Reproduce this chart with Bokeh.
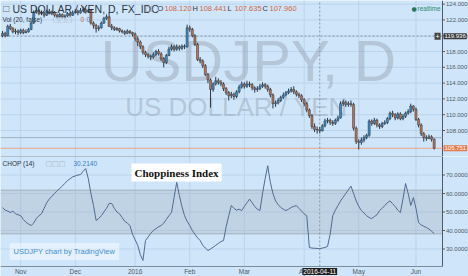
from bokeh.plotting import figure
from bokeh.layouts import column
from bokeh.models import Range1d, Label, BoxAnnotation, ColumnDataSource
from bokeh.core.properties import value
from bokeh.embed import file_html
from bokeh.resources import INLINE

# ---------------- data (USDJPY daily) ----------------
first_open = 120.0
closes = [
    120.3, 120.0, 121.2, 120.9, 120.5, 120.6, 120.4, 120.7, 120.4, 120.5,
    120.8, 121.6, 123.0, 123.2, 122.8, 122.9, 122.6, 123.1, 122.8, 123.0,
    122.6, 122.4, 122.7, 122.4, 122.5, 122.8, 122.6, 122.9, 123.1, 122.9,
    123.2, 123.3, 123.0, 123.2, 121.6, 121.3, 120.9, 121.0, 121.6, 122.2,
    122.4, 121.2, 121.0, 120.8, 120.9, 120.6, 120.5, 120.3, 120.6, 120.4,
    120.2, 119.6, 119.2, 118.6, 117.9, 117.6, 117.4, 117.3, 117.6, 118.0,
    117.7, 117.1, 116.6, 117.5, 118.3, 118.6, 118.3, 118.6, 118.4, 118.7,
    118.6, 121.0, 120.8, 120.0, 118.9, 117.0, 116.8, 116.2, 115.1, 114.4,
    113.2, 113.9, 114.3, 114.1, 113.9, 113.3, 112.8, 112.4, 112.6, 112.3,
    112.9, 113.5, 113.9, 113.6, 113.9, 113.8, 113.4, 113.2, 113.3, 113.6,
    113.8, 113.6, 113.2, 112.5, 111.4, 111.5, 111.8, 112.2, 112.5, 112.8,
    113.0, 113.2, 112.9, 112.6, 112.4, 111.9, 111.4, 110.6, 109.9, 108.5,
    108.1, 108.12, 107.96, 108.6, 109.2, 109.3, 109.0, 108.9, 109.3, 109.6,
    111.4, 111.6, 111.3, 111.4, 111.3, 108.3, 106.6, 106.5, 106.8, 107.1,
    107.4, 109.2, 108.9, 109.3, 108.7, 108.5, 108.9, 109.0, 109.5, 110.2,
    110.0, 109.6, 110.1, 109.5, 109.8, 110.2, 110.4, 111.1, 110.7, 109.4,
    108.7, 107.6, 107.1, 107.0, 107.2, 106.9, 105.751,
]
highs = [
    120.6, 120.5, 121.4, 121.5, 121.1, 120.9, 120.8, 120.9, 120.9, 120.8,
    121.0, 121.8, 123.2, 123.6, 123.4, 123.2, 123.0, 123.3, 123.4, 123.2,
    123.1, 122.8, 122.9, 122.8, 122.7, 123.0, 123.0, 123.2, 123.4, 123.3,
    123.5, 123.7, 123.5, 123.4, 123.3, 121.8, 121.5, 121.3, 121.8, 122.4,
    122.7, 123.0, 121.5, 121.2, 121.1, 121.0, 120.8, 120.7, 120.8, 120.7,
    120.5, 120.4, 119.9, 119.4, 118.8, 118.1, 117.8, 117.6, 117.9, 118.2,
    118.3, 117.9, 117.3, 117.7, 118.6, 118.9, 118.8, 118.9, 118.8, 118.9,
    118.9, 121.4, 121.3, 121.0, 120.2, 119.1, 117.3, 117.0, 116.4, 115.3,
    114.6, 114.1, 114.8, 114.6, 114.4, 114.1, 113.5, 113.0, 112.9, 112.8,
    113.1, 113.8, 114.2, 114.1, 114.3, 114.2, 114.0, 113.6, 113.6, 113.9,
    114.1, 114.0, 113.8, 113.4, 112.7, 111.8, 112.1, 112.4, 112.8, 113.0,
    113.3, 113.5, 113.6, 113.1, 112.8, 112.6, 112.1, 111.6, 110.8, 110.1,
    108.9, 108.5, 108.441, 108.8, 109.5, 109.6, 109.5, 109.3, 109.5, 109.9,
    111.7, 111.9, 111.8, 111.7, 111.8, 111.5, 108.5, 106.9, 107.1, 107.4,
    107.6, 109.4, 109.4, 109.6, 109.5, 108.9, 109.1, 109.3, 109.7, 110.4,
    110.5, 110.2, 110.3, 110.3, 110.1, 110.4, 110.7, 111.4, 111.2, 110.9,
    109.6, 108.9, 107.8, 107.4, 107.5, 107.4, 107.0,
]
lows = [
    119.8, 119.8, 119.9, 120.7, 120.3, 120.2, 120.1, 120.2, 120.2, 120.3,
    120.4, 120.7, 121.5, 122.8, 122.6, 122.6, 122.3, 122.5, 122.7, 122.6,
    122.4, 122.2, 122.3, 122.2, 122.2, 122.4, 122.4, 122.5, 122.8, 122.6,
    122.8, 123.0, 122.8, 122.9, 121.4, 120.9, 120.4, 120.6, 120.9, 121.5,
    122.0, 121.1, 120.7, 120.6, 120.6, 120.4, 120.3, 120.1, 120.2, 120.2,
    119.9, 119.3, 118.7, 118.3, 117.6, 117.3, 117.1, 116.9, 117.1, 117.4,
    117.5, 116.8, 116.0, 116.4, 117.4, 118.1, 118.0, 118.1, 118.1, 118.2,
    118.3, 118.5, 120.5, 119.8, 118.7, 116.8, 116.5, 115.9, 114.9, 114.0,
    110.9, 112.9, 113.7, 113.8, 113.6, 113.0, 112.5, 111.8, 112.1, 111.9,
    112.1, 112.7, 113.3, 113.3, 113.4, 113.5, 113.1, 112.8, 112.9, 113.1,
    113.4, 113.3, 112.9, 112.2, 110.8, 111.0, 111.3, 111.6, 112.0, 112.3,
    112.6, 112.8, 112.6, 112.3, 112.1, 111.6, 111.1, 110.3, 109.6, 108.2,
    107.8, 107.6, 107.635, 107.9, 108.4, 108.9, 108.7, 108.6, 108.7, 109.1,
    109.5, 111.1, 111.0, 111.0, 111.0, 108.0, 106.3, 105.6, 106.2, 106.5,
    106.9, 107.2, 108.6, 108.7, 108.4, 108.2, 108.3, 108.7, 108.8, 109.3,
    109.7, 109.3, 109.4, 109.3, 109.3, 109.6, 110.0, 110.2, 110.4, 109.2,
    108.4, 107.3, 106.6, 106.7, 106.9, 106.6, 105.6,
]
chop = [
    52.4, 51, 50.5, 49.7, 50.5, 49, 48.5, 48, 46, 44.5,
    43.5, 42.7, 44, 46.5, 48, 49, 52, 55, 57, 58.5,
    60, 61.5, 62.7, 64, 65.5, 67, 68, 69, 69.5, 70,
    70.2, 72, 73.5, 68, 60, 53.5, 45.4, 46.5, 48, 50,
    52, 54.6, 54.6, 52, 50, 49, 47, 45, 44, 42.7,
    38, 35, 32, 27, 23.8, 34.6, 36.5, 38.5, 40, 41,
    42, 42.7, 44, 46, 48, 49.7, 58, 66, 59, 53,
    48, 45, 42.7, 40, 38, 36, 34.6, 32, 30.5, 29.2,
    30, 31, 32, 33, 34, 34.6, 42, 48, 53.5, 52,
    51, 51.5, 50.8, 53, 55, 57, 55, 53, 51.5, 50.8,
    60, 68, 75, 66, 60, 56, 54, 52.5, 51.5, 50.8,
    51.5, 52.5, 53, 53.5, 52, 50.5, 49, 48, 30.8, 30.5,
    30.4, 30.3, 30.214, 30.5, 30.8, 31.4, 38, 48, 51, 53.5,
    56, 58, 60, 62, 64, 60, 56, 53, 50.8, 49.5,
    48, 47, 46.5, 47.5, 48.5, 50.8, 52, 53.5, 55, 56,
    54.5, 53, 51, 49.7, 57, 65.4, 60, 53.5, 57.8, 52,
    44.3, 43, 42.3, 41.6, 40.8, 39.6, 38.4,
]
month_ticks = [7, 28, 51, 72, 93, 116, 137, 159]
month_labels = ["Nov", "Dec", "2016", "Feb", "Mar", "Apr", "May", "Jun"]
price_ticks = [108, 110, 112, 114, 116, 118, 120, 122, 124]
chop_ticks = [30, 40, 50, 60, 70]
chop_band = [38.2, 61.8]
cross_idx = 122
cross_date = "2016-04-11"
cross_price = 119.936
cross_ohlc = ["108.120", "108.441", "107.635", "107.960"]
chop_value_txt = "30.2140"
hline_price = 107.1

# ---------------- layout / styling constants ----------------
BG = "#cfe5f9"
GRID = "#bbd4ec"
UP = "#3a8cc6"
DOWN = "#c0714c"
WICK = "#2c3844"
FONT = "Liberation Sans"
AXC = "#4f5b66"
TXT = "#505a64"
AX_FS = "6px"

X0 = -0.77          # left edge (bar-index units)
XR = 169.2          # right edge of the plotting area = price axis line
XE = 179.2          # right edge of the canvas
PX = (XR - X0) / 442.0   # index units per pixel
P_LO, P_HI = 104.71, 124.46
C_LO, C_HI = 15.14, 80.0
C_AX = 20.54        # chop value at the time-axis line
C_LAB = 17.84       # chop value at the date labels

n = len(closes)
idx = list(range(n))
opens = [first_open] + closes[:-1]
src = ColumnDataSource(dict(
    x=idx, h=highs, l=lows,
    top=[max(a, b) for a, b in zip(opens, closes)],
    bot=[min(a, b) for a, b in zip(opens, closes)],
    col=[UP if c >= o else DOWN for o, c in zip(opens, closes)],
))

xr = Range1d(X0, XE)


def base(h, yr):
    p = figure(width=468, height=h, x_range=xr, y_range=yr, output_backend="svg",
               toolbar_location=None, x_axis_location=None, y_axis_location=None,
               min_border_left=0, min_border_top=0, min_border_bottom=0, min_border_right=0)
    p.background_fill_color = BG
    p.border_fill_color = BG
    p.outline_line_color = None
    p.xgrid.visible = False
    p.ygrid.visible = False
    return p


def right_axis(p, ticks, labels, ylo, yhi):
    p.segment(x0=[XR] * len(ticks), y0=ticks, x1=[X0] * len(ticks), y1=ticks,
              line_color=GRID, line_width=1, level="underlay")
    p.segment(x0=[XR], y0=[ylo], x1=[XR], y1=[yhi], line_color=AXC, line_width=1)
    p.segment(x0=[XR] * len(ticks), y0=ticks, x1=[XR + 2.5 * PX] * len(ticks), y1=ticks,
              line_color=AXC, line_width=1)
    p.text(x=[XR + 3.5 * PX] * len(ticks), y=ticks, text=labels, text_font=value(FONT),
           text_font_size=AX_FS, text_color=TXT, text_baseline="middle", text_align="left")


# ---------------- price panel ----------------
p1 = base(156, Range1d(P_LO, P_HI))
p1.segment(x0=month_ticks, y0=[P_LO] * len(month_ticks), x1=month_ticks,
           y1=[P_HI] * len(month_ticks), line_color=GRID, line_width=1, level="underlay")
right_axis(p1, price_ticks, [f"{t:.3f}" for t in price_ticks], P_LO, P_HI)

# watermark
p1.add_layout(Label(x=248, y=96, x_units="screen", y_units="screen", text="USDJPY, D",
                    text_font=FONT, text_font_size="58px", text_color="#8e9cab", text_alpha=0.42,
                    text_align="center", text_baseline="middle", level="underlay"))
p1.add_layout(Label(x=236, y=50, x_units="screen", y_units="screen", text="US DOLLAR / YEN",
                    text_font=FONT, text_font_size="26px", text_color="#8e9cab", text_alpha=0.42,
                    text_align="center", text_baseline="middle", level="underlay"))

# helper lines
p1.segment(x0=[X0], y0=[hline_price], x1=[XR], y1=[hline_price], line_color="#9fb2c6", line_width=1)
p1.segment(x0=[X0], y0=[closes[-1]], x1=[XR], y1=[closes[-1]], line_color="#eaa486", line_width=1)
p1.segment(x0=[X0], y0=[cross_price], x1=[XR], y1=[cross_price], line_color="#8796a6",
           line_width=1, line_dash="2 2")
p1.segment(x0=[cross_idx], y0=[P_LO], x1=[cross_idx], y1=[P_HI], line_color="#8796a6",
           line_width=1, line_dash="2 2")

p1.segment("x", "l", "x", "h", source=src, color=WICK, line_width=1)
p1.vbar(x="x", width=0.8, top="top", bottom="bot", fill_color="col", line_color=WICK,
        line_width=0.5, source=src)

# header texts
p1.add_layout(Label(x=2, y=148, x_units="screen", y_units="screen", text="\u25a1",
                    text_font="DejaVu Sans", text_font_size="8px", text_color="#6a7480",
                    text_baseline="middle"))
p1.add_layout(Label(x=12, y=148, x_units="screen", y_units="screen", text="US DOLLAR / YEN, D, FX_IDC",
                    text_font=FONT, text_font_size="10.5px", text_color="#2d3640",
                    text_baseline="middle"))
p1.add_layout(Label(x=145, y=148, x_units="screen", y_units="screen", text="\u25a1",
                    text_font="DejaVu Sans", text_font_size="8px", text_color="#9aa6b2",
                    text_baseline="middle"))
xs = 157
for letter, val in zip(["O", "H", "L", "C"], cross_ohlc):
    p1.add_layout(Label(x=xs, y=148, x_units="screen", y_units="screen", text=letter,
                        text_font=FONT, text_font_size="7.5px", text_color="#2d3640",
                        text_baseline="middle"))
    p1.add_layout(Label(x=xs + 7, y=148, x_units="screen", y_units="screen", text=val,
                        text_font=FONT, text_font_size="7.5px", text_color="#d0683c",
                        text_baseline="middle"))
    xs += 35
p1.add_layout(Label(x=2, y=137, x_units="screen", y_units="screen", text="Vol (20, false)",
                    text_font=FONT, text_font_size="6.5px", text_color="#2d3640",
                    text_baseline="middle"))
p1.add_layout(Label(x=52, y=137, x_units="screen", y_units="screen", text="\u25a1\u25a1\u25a1",
                    text_font="DejaVu Sans", text_font_size="7px", text_color="#a8b4c0",
                    text_baseline="middle"))
p1.add_layout(Label(x=80, y=137, x_units="screen", y_units="screen", text="0",
                    text_font=FONT, text_font_size="6.5px", text_color="#d0683c",
                    text_baseline="middle"))
p1.add_layout(Label(x=86, y=137, x_units="screen", y_units="screen", text="0",
                    text_font=FONT, text_font_size="6.5px", text_color="#3b7fc4",
                    text_baseline="middle"))
p1.add_layout(Label(x=411, y=148, x_units="screen", y_units="screen", text="\u25cf",
                    text_font="DejaVu Sans", text_font_size="6px", text_color="#1f7a5c",
                    text_baseline="middle"))
p1.add_layout(Label(x=417, y=148, x_units="screen", y_units="screen", text="realtime",
                    text_font=FONT, text_font_size="6.5px", text_color="#2a8a6a",
                    text_baseline="middle"))

# price boxes on the axis
p1.add_layout(Label(x=XR - 8 * PX, y=cross_price, text="+",
                    text_font=FONT, text_font_size="7px", text_color="white",
                    background_fill_color="#444444", text_baseline="middle", padding=1))
p1.add_layout(Label(x=XR + 1 * PX, y=cross_price, text=f"{cross_price:.3f}",
                    text_font=FONT, text_font_size=AX_FS, text_color="white",
                    background_fill_color="#3a3a3a", text_baseline="middle", padding=1))
p1.add_layout(Label(x=XR + 1 * PX, y=closes[-1], text=f"{closes[-1]:.3f}",
                    text_font=FONT, text_font_size=AX_FS, text_color="white",
                    background_fill_color="#e57a4c", text_baseline="middle", padding=1))

# ---------------- CHOP panel ----------------
p2 = base(120, Range1d(C_LO, C_HI))
p2.segment(x0=month_ticks, y0=[C_AX] * len(month_ticks), x1=month_ticks,
           y1=[C_HI] * len(month_ticks), line_color=GRID, line_width=1, level="underlay")
p2.add_layout(BoxAnnotation(left=X0, right=XR, bottom=chop_band[0], top=chop_band[1],
                            fill_color="#9aa6b2", fill_alpha=0.28, line_color=None,
                            level="underlay"))
p2.segment(x0=[X0, X0], y0=chop_band, x1=[XR, XR], y1=chop_band, line_color="#a3afbb", line_width=1)
right_axis(p2, chop_ticks, [f"{t:.4f}" for t in chop_ticks], C_AX, C_HI)
# panel separator and time axis
p2.segment(x0=[X0, X0], y0=[C_HI, C_AX], x1=[XR, XR], y1=[C_HI, C_AX], line_color="#7d8c9b",
           line_width=1.2)
p2.text(x=month_ticks, y=[C_LAB] * len(month_ticks), text=month_labels, text_font=value(FONT),
        text_font_size="6.5px", text_color=TXT, text_align="center", text_baseline="middle")
p2.segment(x0=[cross_idx], y0=[C_AX], x1=[cross_idx], y1=[C_HI], line_color="#8796a6",
           line_width=1, line_dash="2 2")

p2.line(idx, chop, line_color="#4f6c8f", line_width=1)

p2.add_layout(Label(x=2, y=113, x_units="screen", y_units="screen", text="CHOP (14)",
                    text_font=FONT, text_font_size="6.5px", text_color="#2d3640",
                    text_baseline="middle"))
p2.add_layout(Label(x=45, y=113, x_units="screen", y_units="screen", text="\u25a1\u25a1\u25a1",
                    text_font="DejaVu Sans", text_font_size="7px", text_color="#a8b4c0",
                    text_baseline="middle"))
p2.add_layout(Label(x=73, y=113, x_units="screen", y_units="screen", text=chop_value_txt,
                    text_font=FONT, text_font_size="6.5px", text_color="#3b7fc4",
                    text_baseline="middle"))
p2.add_layout(Label(x=131, y=104, x_units="screen", y_units="screen", text="Choppiness Index",
                    text_font="Liberation Serif", text_font_style="bold", text_font_size="11px",
                    text_color="#111111", text_baseline="middle", background_fill_color="white",
                    padding=3))
p2.add_layout(Label(x=9, y=25, x_units="screen", y_units="screen", text="USDJPY chart by TradingView",
                    text_font=FONT, text_font_size="7.5px", text_color="#3f8fd0",
                    text_baseline="middle", background_fill_color="white", background_fill_alpha=0.45,
                    padding=4))
p2.add_layout(Label(x=cross_idx, y=C_LAB, text=cross_date,
                    text_font=FONT, text_font_size="6.5px", text_color="white",
                    text_align="center", text_baseline="middle",
                    background_fill_color="#1e1e1e", padding=1))

layout = column(p1, p2, spacing=0)
open("out.html", "w").write(file_html(layout, INLINE))
